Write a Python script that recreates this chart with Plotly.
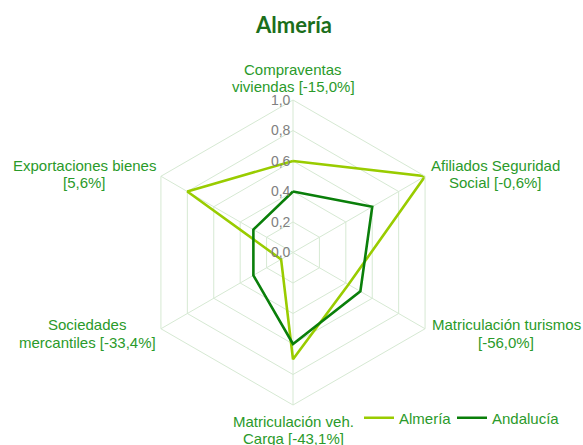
import plotly.graph_objects as go

# ---- data ----
categories = [
    "Compraventas viviendas",
    "Afiliados Seguridad Social",
    "Matriculación turismos",
    "Matriculación veh. Carga",
    "Sociedades mercantiles",
    "Exportaciones bienes",
]
label_lines = [
    ["Compraventas", "viviendas [-15,0%]"],
    ["Afiliados Seguridad", "Social [-0,6%]"],
    ["Matriculación turismos", "[-56,0%]"],
    ["Matriculación veh.", "Carga [-43,1%]"],
    ["Sociedades", "mercantiles [-33,4%]"],
    ["Exportaciones bienes", "[5,6%]"],
]
series_names = ["Almería", "Andalucía"]
almeria = [0.60, 1.00, 0.42, 0.70, 0.09, 0.80]
andalucia = [0.40, 0.60, 0.51, 0.60, 0.30, 0.30]
tick_vals = [0.0, 0.2, 0.4, 0.6, 0.8, 1.0]
tick_text = ["0,0", "0,2", "0,4", "0,6", "0,8", "1,0"]

W, H = 583, 445
GRID = "#d6e9d3"
LABEL_COLOR = "#2a9a2a"
FONT = "Liberation Sans, Arial"


def px_x(x):
    return x / W


def px_y(y):
    return 1 - y / H


fig = go.Figure()
fig.add_trace(go.Scatterpolar(
    r=almeria + almeria[:1], theta=categories + categories[:1],
    mode="lines", name=series_names[0], legend="legend",
    line=dict(color="#99cc00", width=2.6),
))
fig.add_trace(go.Scatterpolar(
    r=andalucia + andalucia[:1], theta=categories + categories[:1],
    mode="lines", name=series_names[1], legend="legend2",
    line=dict(color="#0a7f0a", width=2.6),
))

# polar domain: center (293, 252.5), radius 152.5 in page pixels
cx, cy, R = 293, 252.5, 152.5
dom_x = [px_x(cx - R), px_x(cx + R)]
dom_y = [px_y(cy + R), px_y(cy - R)]

label_pos = [
    [(293, 69), (293, 86)],
    [(495, 165), (495, 182)],
    [(506, 324), (506, 342)],
    [(293, 421), (293, 438)],
    [(87, 324), (87, 342)],
    [(84, 165), (84, 183)],
]
annotations = []
for lines, poss in zip(label_lines, label_pos):
    for txt, (px, py) in zip(lines, poss):
        annotations.append(dict(
            text=txt, x=px_x(px), y=px_y(py), xref="paper", yref="paper",
            xanchor="center", yanchor="middle", showarrow=False,
            font=dict(family=FONT, size=15, color=LABEL_COLOR),
        ))

legend_common = dict(
    orientation="h", xanchor="left", yanchor="middle",
    font=dict(family=FONT, size=15, color=LABEL_COLOR),
    bgcolor="rgba(0,0,0,0)", itemwidth=30,
)

fig.update_layout(
    width=W, height=H,
    margin=dict(l=0, r=0, t=0, b=0),
    paper_bgcolor="white",
    title=dict(
        text="Almería", x=px_x(294), y=px_y(25), xanchor="center", yanchor="middle",
        font=dict(family="Lato", size=22, color="#1b6e1b", weight="bold"),
    ),
    polar=dict(
        domain=dict(x=dom_x, y=dom_y),
        bgcolor="white",
        gridshape="linear",
        angularaxis=dict(
            direction="clockwise", rotation=90,
            showticklabels=False, ticks="",
            showline=True, linecolor=GRID, linewidth=1,
            gridcolor=GRID, gridwidth=1,
        ),
        radialaxis=dict(
            range=[0, 1], tickvals=tick_vals, ticktext=tick_text,
            angle=90, tickangle=90, side="counterclockwise",
            showline=False, ticks="",
            gridcolor=GRID, gridwidth=1,
            tickfont=dict(family=FONT, size=14, color="#808080"),
        ),
    ),
    showlegend=True,
    legend=dict(x=px_x(359), y=px_y(418), **legend_common),
    legend2=dict(x=px_x(452), y=px_y(418), **legend_common),
    annotations=annotations,
)

fig.write_html(
    "out.html",
    config={"displayModeBar": False},
    post_script="document.body.style.margin='0px';document.body.style.overflow='hidden';",
)
